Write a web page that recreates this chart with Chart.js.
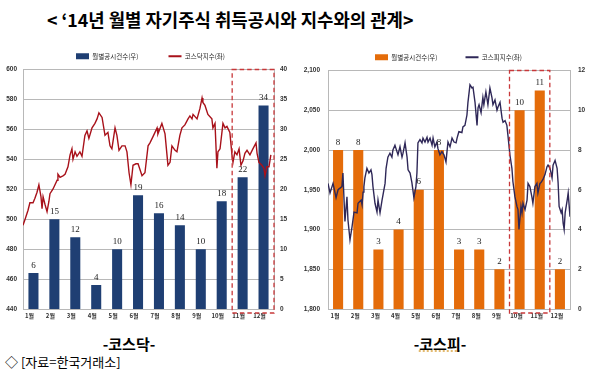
<!DOCTYPE html>
<html><head><meta charset="utf-8">
<script src="https://cdn.jsdelivr.net/npm/chart.js@4.4.1/dist/chart.umd.min.js"></script>
<style>
html,body{margin:0;padding:0;background:#fff;width:590px;height:373px;overflow:hidden;position:relative;font-family:"Noto Sans CJK KR",sans-serif;color:#000;}
#title{position:absolute;left:47px;top:7px;font-size:17.8px;font-weight:bold;white-space:nowrap;line-height:24px;}
canvas{position:absolute;}
#c1{left:0;top:23px;}
#c2{left:295px;top:26px;}
.cap{position:absolute;top:334px;font-size:15px;font-weight:bold;line-height:19px;white-space:nowrap;transform:translateX(-50%);}
#src{position:absolute;left:5px;top:353px;font-size:13px;line-height:18px;white-space:nowrap;}
</style></head>
<body>
<div id="title">&lt; ‘14년 월별 자기주식 취득공시와 지수와의 관계&gt;</div>
<canvas id="c1" width="295" height="310"></canvas>
<canvas id="c2" width="295" height="307"></canvas>
<div class="cap" style="left:129px">-코스닥-</div>
<div class="cap" style="left:440px">-<span style="text-decoration:underline dotted #d9a441;">코스피</span>-</div>
<div id="src">◇ [자료=한국거래소]</div>
<script>
const months = ['1월','2월','3월','4월','5월','6월','7월','8월','9월','10월','11월','12월'];
const kosdaqFilings = [6,15,12,4,10,19,16,14,10,18,22,34];
const kospiFilings = [8,8,3,4,6,8,3,3,2,10,11,2];

// index line: position in months (0 = start of Jan, 12 = end of Dec) and value
const kosdaqPos = [0,0.10,0.24,0.33,0.48,0.57,0.67,0.76,0.86,0.91,
0.96,1.05,1.15,1.24,1.29,1.43,1.53,1.63,1.67,1.77,
1.91,2.01,2.15,2.25,2.34,2.39,2.49,2.58,2.72,2.82,
2.96,3.06,3.15,3.30,3.44,3.54,3.63,3.78,3.92,4.06,
4.16,4.25,4.40,4.49,4.59,4.73,4.88,4.97,5.07,5.16,
5.26,5.40,5.50,5.69,5.83,5.98,6.07,6.21,6.41,6.45,
6.64,6.79,6.93,7.03,7.12,7.27,7.36,7.50,7.60,7.74,
7.89,7.98,8.08,8.13,8.32,8.46,8.56,8.60,8.70,8.84,
9.03,9.08,9.18,9.27,9.32,9.42,9.56,9.66,9.75,9.89,
9.99,10.04,10.13,10.23,10.33,10.42,10.52,10.61,10.71,10.85,
10.99,11.14,11.19,11.28,11.42,11.52,11.57,11.66,11.76,11.85];
const kosdaqIndex = [496,500,506,511,511,514,518,523,515,507,
515,510,505,512,517,520,523,526,530,528,
529,530,535,543,547,540,545,542,545,542,
556,559,554,561,564,567,571,568,556,558,
549,547,561,556,546,549,549,545,531,523,
536,537,537,529,531,549,551,555,561,557,
564,557,536,538,549,546,545,556,561,563,
567,569,567,570,567,574,581,578,576,570,
567,561,564,534,545,547,564,561,562,558,
543,538,545,543,547,536,539,544,546,543,
547,551,544,538,536,534,529,535,535,543];

const kospiPos = [0.00,0.10,0.25,0.40,0.50,0.69,0.74,0.84,0.94,0.99,
1.09,1.19,1.29,1.44,1.49,1.64,1.69,1.74,1.78,1.83,
1.93,2.03,2.13,2.18,2.23,2.33,2.43,2.48,2.58,2.68,
2.73,2.83,2.88,2.97,3.07,3.17,3.22,3.32,3.42,3.47,
3.57,3.67,3.72,3.82,3.92,3.97,4.07,4.16,4.26,4.36,
4.41,4.46,4.56,4.66,4.71,4.81,4.91,4.96,5.06,5.16,
5.21,5.30,5.40,5.45,5.55,5.65,5.75,5.85,5.90,5.95,
6.05,6.15,6.25,6.35,6.40,6.49,6.64,6.69,6.79,6.89,
6.94,7.04,7.14,7.19,7.29,7.39,7.44,7.49,7.59,7.68,
7.73,7.83,7.93,8.03,8.13,8.18,8.28,8.38,8.43,8.53,
8.63,8.68,8.78,8.87,8.92,9.02,9.12,9.17,9.27,9.37,
9.42,9.47,9.57,9.62,9.67,9.77,9.87,9.92,10.01,10.11,
10.16,10.26,10.36,10.41,10.51,10.56,10.66,10.76,10.86,10.91,
11.01,11.11,11.16,11.26,11.36,11.41,11.46,11.56,11.61,11.66,
11.71,11.76,11.86,11.91,12.00];
const kospiIndex = [1958,1946,1958,1940,1950,1954,1971,1910,1941,1912,
1887,1903,1922,1921,1933,1937,1931,1947,1954,1965,
1977,1971,1975,1969,1954,1933,1922,1937,1921,1937,
1944,1958,1977,1991,1996,1991,2000,2006,1998,1994,
2004,1991,1996,2009,1991,1975,1971,1959,1940,1954,
1971,2009,2013,2009,2015,2010,2016,2010,2015,2006,
2015,2004,2010,2002,1994,1998,1994,1985,1998,2010,
2004,2015,2010,2009,2015,2023,2022,2029,2031,2044,
2060,2082,2078,2079,2060,2031,2053,2057,2047,2066,
2057,2073,2057,2078,2066,2057,2063,2050,2054,2060,
2040,2035,2037,2031,2019,1994,1977,1960,1941,1929,
1925,1900,1929,1921,1933,1925,1937,1958,1954,1941,
1933,1954,1958,1946,1958,1959,1963,1969,1979,1981,
1977,1965,1981,1987,1977,1959,1929,1921,1925,1908,
1900,1921,1937,1946,1916];

const kosdaqAxis = {min:440, max:600, step:20};
const kosdaqCountAxis = {min:0, max:40, step:5};
const kospiAxis = {min:1800, max:2100, step:50};
const kospiCountAxis = {min:0, max:12, step:2};

const KR = '"Noto Sans CJK KR", sans-serif';
const GRID = '#b8b8b8';
Chart.defaults.font.family = KR;

const barLabelPlugin = {
  id:'barLabels',
  afterDatasetsDraw(chart){
    const ctx = chart.ctx;
    chart.data.datasets.forEach((ds,di)=>{
      if(ds.type!=='bar') return;
      const meta = chart.getDatasetMeta(di);
      ctx.save();
      ctx.font = '9px "Liberation Serif", serif';
      ctx.fillStyle = '#222';
      ctx.textAlign = 'center';
      ctx.textBaseline = 'alphabetic';
      meta.data.forEach((el,i)=>ctx.fillText(String(ds.data[i]), el.x, el.y-5.5));
      ctx.restore();
    });
  }
};
const dashBoxPlugin = {
  id:'dashBox',
  afterDatasetsDraw(chart, args, opts){
    const xs = chart.scales.x, a = chart.chartArea, ctx = chart.ctx;
    const step = xs.getPixelForValue(1) - xs.getPixelForValue(0);
    const l = xs.getPixelForValue(opts.from) - step/2;
    const r = xs.getPixelForValue(opts.to) + step/2;
    ctx.save();
    ctx.strokeStyle = '#c8383a';
    ctx.lineWidth = 1.3;
    ctx.setLineDash([4.5,3]);
    ctx.strokeRect(l, a.top, r-l, a.bottom + 4 - a.top);
    ctx.restore();
  }
};

function build(id, o){
  const chart = new Chart(document.getElementById(id), {
    data:{
      labels: months,
      datasets:[
        {type:'line', label:o.lineLabel, data:o.pos.map((p,i)=>({x:p, y:o.index[i]})),
          xAxisID:'x2', yAxisID:'y', borderColor:o.lineColor, backgroundColor:o.lineColor,
          borderWidth:1.4, pointRadius:0, tension:0, order:0},
        {type:'bar', label:o.barLabel, data:o.filings, xAxisID:'x', yAxisID:'y2',
          backgroundColor:o.barColor, barPercentage:o.barPct, categoryPercentage:1, grouped:false, order:1}
      ]
    },
    options:{
      responsive:false, animation:false, devicePixelRatio:1,
      layout:{padding:0},
      plugins:{
        tooltip:{enabled:false},
        dashBox:{from:o.boxFrom, to:o.boxTo},
        legend:{display:true, position:'top', align:'center',
          labels:{usePointStyle:true, pointStyleWidth:13, boxHeight:6, padding:o.legendGap,
            color:'#222', font:{family:KR, size:6.5},
            sort:(a,b)=>b.datasetIndex-a.datasetIndex,
            generateLabels(chart){
              const items = Chart.defaults.plugins.legend.labels.generateLabels(chart);
              items.forEach(it=>{
                const ds = chart.data.datasets[it.datasetIndex];
                if(ds.type==='line'){ it.pointStyle='line'; it.strokeStyle=ds.borderColor; it.lineWidth=2; }
                else { it.pointStyle='rect'; it.fillStyle=ds.backgroundColor; it.strokeStyle=ds.backgroundColor; it.lineWidth=0; }
              });
              return items;
            }}}
      },
      scales:{
        x:{type:'category', offset:true,
          grid:{display:false, drawTicks:false}, border:{display:true, color:GRID},
          ticks:{font:{family:KR, size:6, weight:'bold'}, color:'#333', padding:3, labelOffset:o.labelOffset, maxRotation:0, autoSkip:false},
          afterFit(s){ s.height = 24; }},
        x2:{type:'linear', display:false, min:0, max:12},
        y:{position:'left', min:o.axis.min, max:o.axis.max,
          ticks:{stepSize:o.axis.step, padding:o.leftPad, color:'#333', font:{family:'"Liberation Sans", Arial, sans-serif', size:6.5, weight:'bold'},
            callback:v=>v.toLocaleString('en-US')},
          grid:{color:GRID, drawTicks:false}, border:{color:GRID},
          afterFit(s){ s.width = o.leftW; }},
        y2:{position:'right', min:o.countAxis.min, max:o.countAxis.max,
          ticks:{stepSize:o.countAxis.step, padding:o.rightPad, color:'#333', font:{family:'"Liberation Sans", Arial, sans-serif', size:6.5, weight:'bold'}},
          grid:{display:false, drawTicks:false}, border:{color:GRID},
          afterFit(s){ s.width = o.rightW; }}
      }
    },
    plugins:[barLabelPlugin, dashBoxPlugin]
  });
  // nudge the legend row sideways to where the reference places it (chart area unchanged)
  const leg = chart.legend;
  const dx = o.legendX - leg.legendHitBoxes[0].left;
  const origDraw = leg.draw;
  leg.draw = function(area){ const c = this.ctx; c.save(); c.translate(dx, 0); origDraw.call(this, area); c.restore(); };
  chart.draw();
  return chart;
}

build('c1', {lineLabel:'코스닥지수(좌)', barLabel:'월별공시건수(우)', pos:kosdaqPos, index:kosdaqIndex,
  filings:kosdaqFilings, lineColor:'#a8111a', barColor:'#1f3f73', barPct:0.48,
  axis:kosdaqAxis, countAxis:kosdaqCountAxis, leftW:23, rightW:21, leftPad:6, rightPad:6,
  legendGap:30, labelOffset:-4, boxFrom:10, boxTo:11, legendX:76});
build('c2', {lineLabel:'코스피지수(좌)', barLabel:'월별공시건수(우)', pos:kospiPos, index:kospiIndex,
  filings:kospiFilings, lineColor:'#2f2858', barColor:'#e46c0a', barPct:0.5,
  axis:kospiAxis, countAxis:kospiCountAxis, leftW:33, rightW:20, leftPad:8, rightPad:8,
  legendGap:28, labelOffset:-3, boxFrom:9, boxTo:10, legendX:80});
</script>
</body></html>
